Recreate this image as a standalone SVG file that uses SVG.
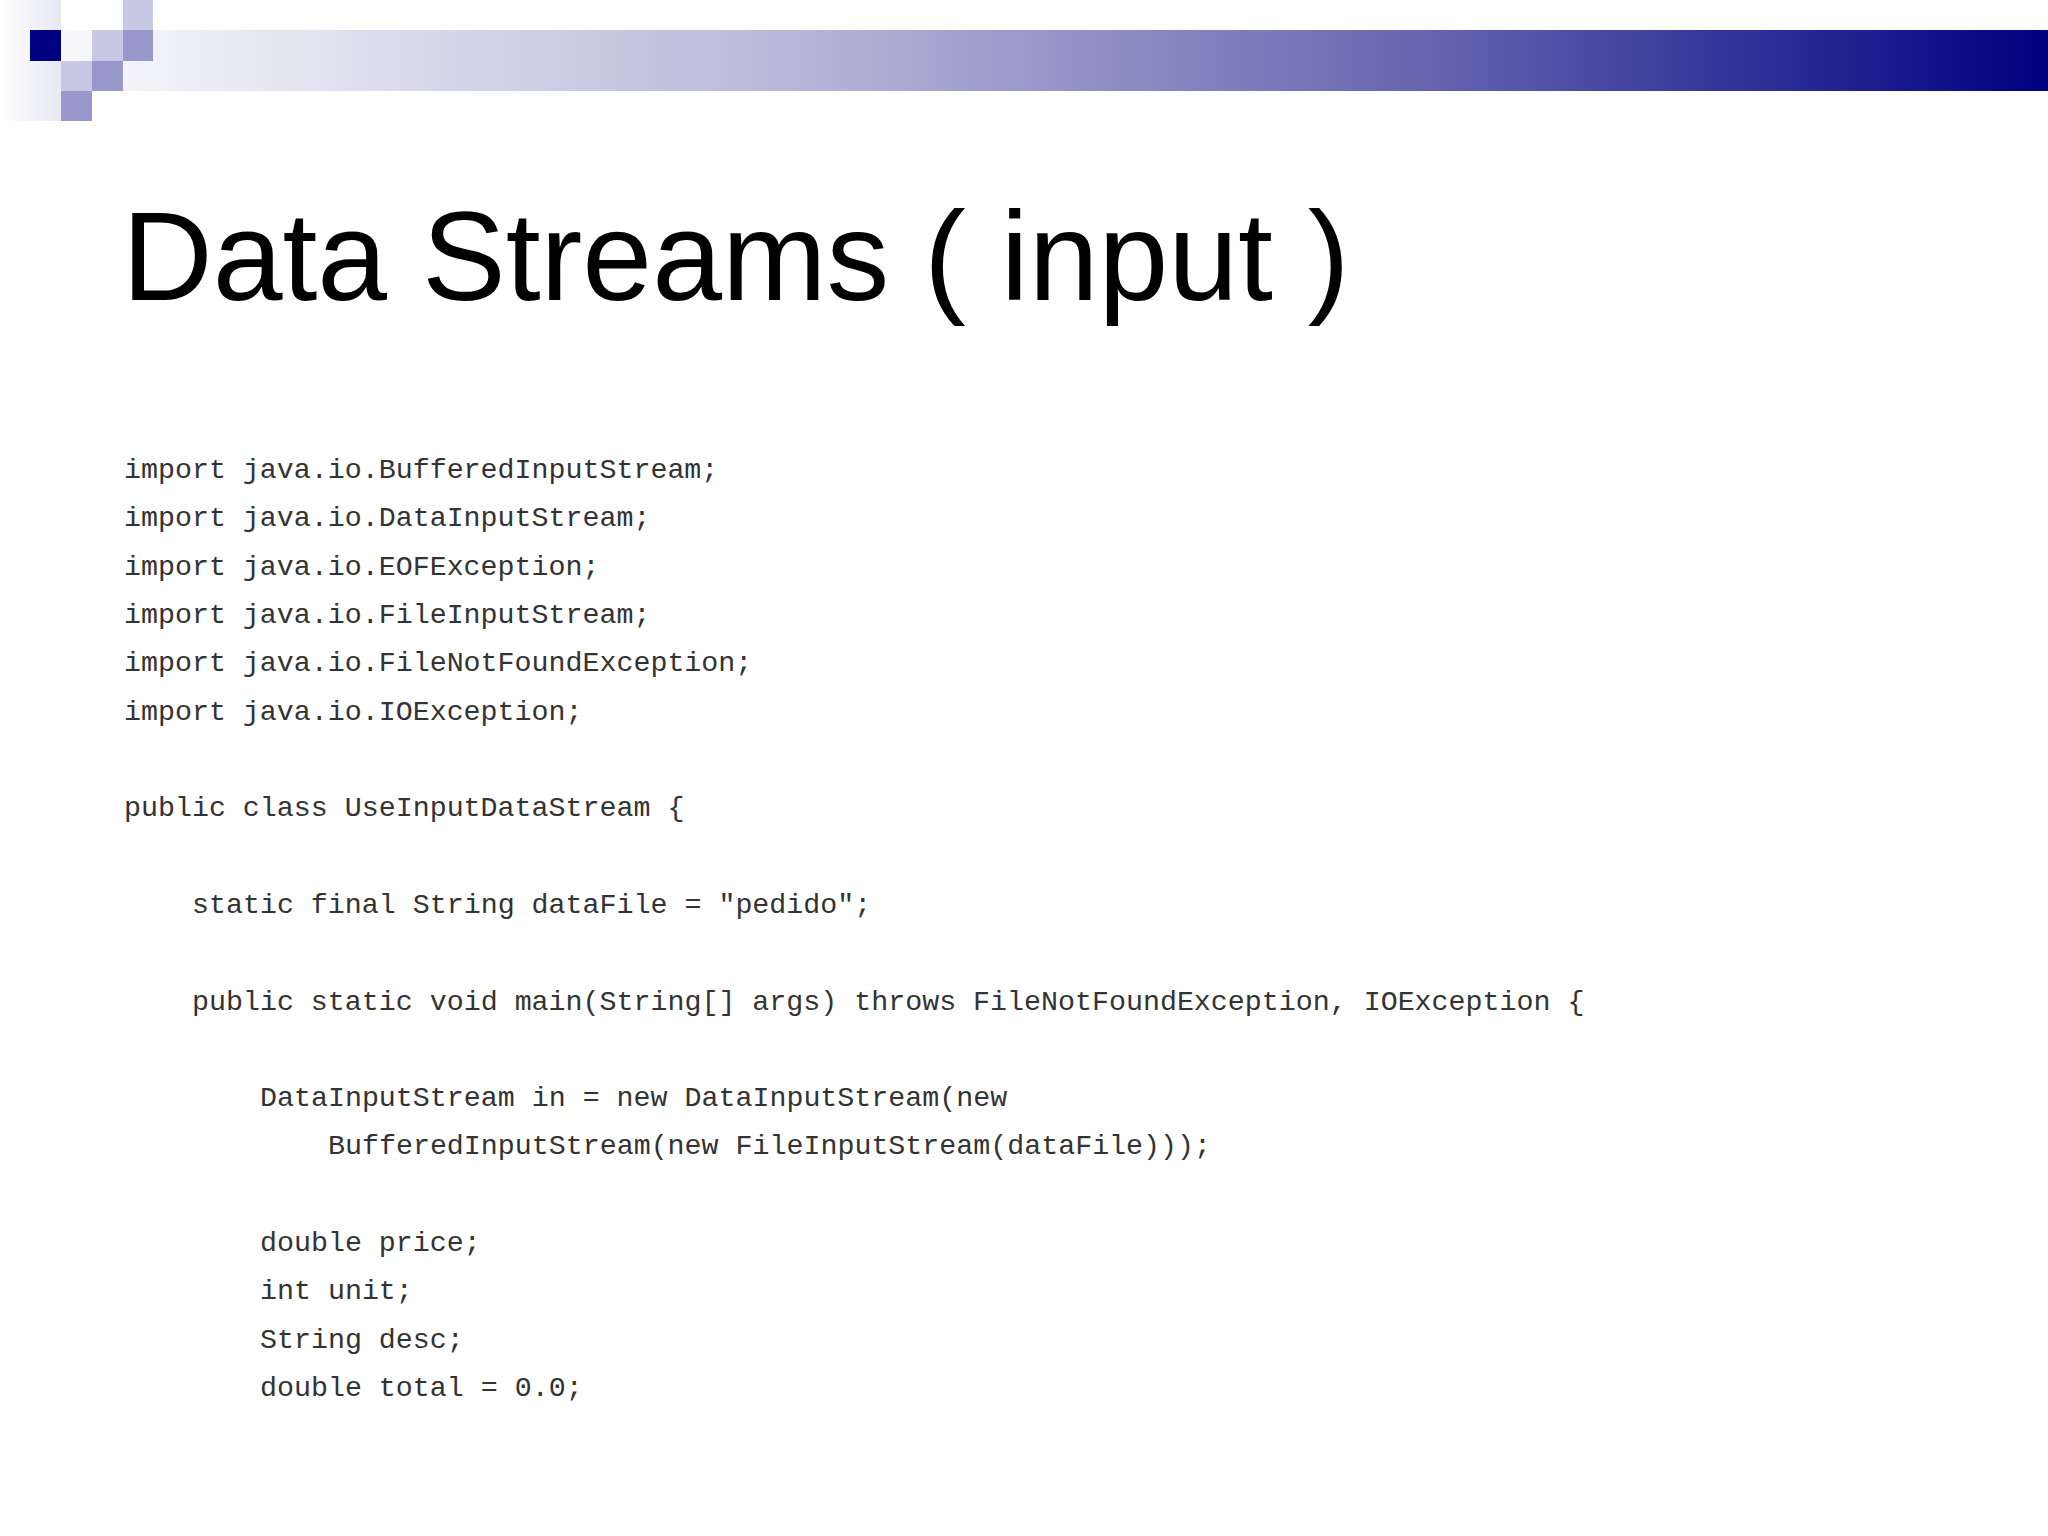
<svg xmlns="http://www.w3.org/2000/svg" width="2048" height="1536" viewBox="0 0 2048 1536">
<defs>
<linearGradient id="bar" x1="0" y1="0" x2="1" y2="0">
<stop offset="0" stop-color="#ffffff"/>
<stop offset="0.4" stop-color="#b4b4d8"/>
<stop offset="0.7" stop-color="#6464b0"/>
<stop offset="1" stop-color="#000080"/>
</linearGradient>
<linearGradient id="fade" x1="0" y1="0" x2="1" y2="0">
<stop offset="0" stop-color="#ffffff"/>
<stop offset="1" stop-color="#e8e8f4"/>
</linearGradient>
<style>
.c{font-family:"Liberation Mono",monospace;font-size:28.3px;fill:#333}
</style>
</defs>
<rect width="2048" height="1536" fill="#fff"/>
<g id="decor">
<rect x="0" y="30" width="2048" height="61" fill="url(#bar)"/>
<rect x="0" y="0" width="61" height="121" fill="url(#fade)"/>
<rect x="123" y="0" width="30" height="30" fill="#c8c8e4"/>
<rect x="30" y="30" width="31" height="31" fill="#000080"/>
<rect x="92" y="30" width="31" height="31" fill="#c8c8e4"/>
<rect x="123" y="30" width="30" height="31" fill="#9898cc"/>
<rect x="61" y="61" width="31" height="30" fill="#c8c8e4"/>
<rect x="92" y="61" width="31" height="30" fill="#9898cc"/>
<rect x="61" y="91" width="31" height="30" fill="#9898cc"/>
</g>
<text id="title" x="122" y="300" font-family="Liberation Sans, Arial, sans-serif" font-size="125.5" fill="#000">Data Streams ( input )</text>
<g id="code" class="c" xml:space="preserve">
<text class="c" x="124" y="478">import java.io.BufferedInputStream;</text>
<text class="c" x="124" y="526">import java.io.DataInputStream;</text>
<text class="c" x="124" y="575">import java.io.EOFException;</text>
<text class="c" x="124" y="623">import java.io.FileInputStream;</text>
<text class="c" x="124" y="671">import java.io.FileNotFoundException;</text>
<text class="c" x="124" y="720">import java.io.IOException;</text>
<text class="c" x="124" y="816">public class UseInputDataStream {</text>
<text class="c" x="192" y="913">static final String dataFile = "pedido";</text>
<text class="c" x="192" y="1010">public static void main(String[] args) throws FileNotFoundException, IOException {</text>
<text class="c" x="260" y="1106">DataInputStream in = new DataInputStream(new</text>
<text class="c" x="328" y="1154">BufferedInputStream(new FileInputStream(dataFile)));</text>
<text class="c" x="260" y="1251">double price;</text>
<text class="c" x="260" y="1299">int unit;</text>
<text class="c" x="260" y="1348">String desc;</text>
<text class="c" x="260" y="1396">double total = 0.0;</text>
</g>
</svg>
